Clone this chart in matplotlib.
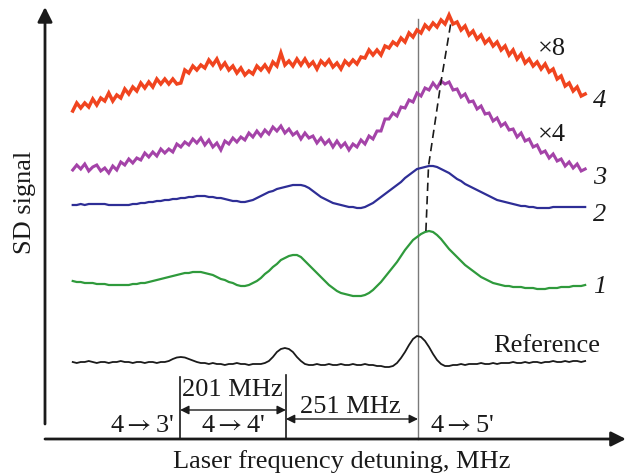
import numpy as np
import matplotlib
matplotlib.use("Agg")
import matplotlib.pyplot as plt

plt.rcParams['font.family'] = ['Liberation Serif', 'DejaVu Serif']
plt.rcParams['mathtext.fontset'] = 'stix'

# Laser frequency detuning (MHz) relative to 4->5' transition, sample grid
detuning = np.linspace(-656, 317.6, 129)

# Hyperfine transitions (MHz)
transitions = {"4→3'": -452, "4→4'": -251, "4→5'": 0}

reference = [77,76,77,77,78,77,76,77,77,76,77,77,78,77,77,76,77,77,76,77,77,76,77,
             77,78,80,81.5,82,81.5,80,78.5,77,76,76,
             75,76,75,75,74,75,75,76,75,75,74,75,75,
             75,76,78,82,87,90,91,90,87,82,78,75,74,
             74,75,74,74,75,74,74,75,74,74,75,74,74,75,
             74,74,73,73,72,72,73,76,81,87,94,100,103,102,98,92,85,79,75,73,73,
             74,74,75,74,75,75,75,76,75,75,76,75,76,76,76,77,76,76,77,76,77,77,76,77,77,78,77,77,78,77,78,78,77,78]

curve1 = [158,157,157,156,156,156,155,155,155,154,154,154,154,154,154,155,155,156,156,157,
          158,159,160,161,162,163,164,165,166,166,167,167,167,166,165,164,162,160,159,157,
          156,154,153,153,154,156,158,161,165,168,172,175,179,181,183,184,184,182,178,174,
          170,166,162,158,154,151,148,146,145,144,143,143,143,144,146,149,153,157,162,167,
          172,177,183,189,194,199,202,205,207,208,207,204,200,195,190,186,182,178,174,171,
          168,165,162,160,158,156,155,154,153,153,152,152,152,151,151,151,150,150,150,151,
          151,151,152,152,152,153,153,153,154]

curve2 = [234,234,235,234,235,235,235,235,235,234,234,234,234,234,234,235,235,236,236,237,
          237,238,238,239,239,240,240,241,241,242,242,243,243,243,242,242,241,241,240,239,
          238,238,237,237,238,239,241,243,245,247,248,250,251,252,253,254,254,254,253,251,
          248,245,242,240,238,236,235,234,233,232,232,231,231,232,234,236,239,242,245,248,
          251,254,257,261,264,267,270,271,272,273,273,272,270,268,266,263,260,258,255,253,
          251,249,247,245,243,241,239,238,237,236,235,234,233,233,232,232,231,231,231,231,
          232,232,232,232,232,232,232,232,232]

curve3 = [269,274,270,275,268,272,274,268,271,266,273,269,277,274,280,276,281,279,286,282,
          287,283,290,286,290,287,295,292,297,294,300,296,301,294,299,292,296,289,298,295,
          301,297,302,299,306,302,308,303,309,305,312,308,313,306,310,304,307,300,306,301,
          303,296,301,295,299,292,298,292,296,289,295,292,299,295,303,300,308,308,320,320,
          326,323,332,331,339,337,346,343,351,349,356,351,358,355,357,349,350,342,345,337,
          338,330,333,325,326,318,321,313,316,309,310,302,306,298,300,292,294,286,288,281,
          285,278,280,273,277,271,275,268,270]

curve4 = [328,336,331,336,332,340,334,341,338,346,338,344,341,350,345,352,348,356,351,357,
          352,360,355,360,355,360,355,356,369,366,373,369,374,371,379,374,380,371,376,369,
          373,366,371,364,368,365,373,369,374,368,377,373,386,374,378,373,380,374,380,373,
          377,370,378,374,379,372,376,370,378,374,379,375,382,381,389,384,389,384,393,391,
          397,394,401,397,406,402,409,406,414,410,416,412,419,415,424,415,417,409,413,404,
          408,400,404,396,400,393,397,389,393,384,389,380,385,376,380,373,377,370,375,367,
          370,360,363,353,356,348,352,343,345]

curves = [
    (reference, '#1a1a1a', 1.3),
    (curve1, '#2f9a3c', 1.6),
    (curve2, '#2e2e96', 1.6),
    (curve3, '#a443a8', 2.2),
    (curve4, '#f0441f', 2.5),
]

fig = plt.figure(figsize=(6.32, 4.77), dpi=100)
ax = fig.add_axes([0, 0, 1, 1])
ax.set_xlim(-794.2, 406.6)
ax.set_ylim(-37, 440)
ax.axis('off')

for vals, col, lw in curves:
    ax.plot(detuning, vals, color=col, lw=lw, solid_joinstyle='miter')

# transition markers
ax.plot([0, 0], [0, 420], color='#7a7a7a', lw=1.0, zorder=0)
ax.plot([transitions["4→3'"]] * 2, [0, 62], color='#1a1a1a', lw=1.2)
ax.plot([transitions["4→4'"]] * 2, [0, 64], color='#1a1a1a', lw=1.2)

# dashed line through peak positions
ax.plot([15, 20, 44, 63], [208, 273, 358, 418], color='#1a1a1a', lw=1.2,
        dashes=(5, 3))

# interval arrows
ax.annotate('', xy=(transitions["4→3'"], 29), xytext=(transitions["4→4'"], 29),
            arrowprops=dict(arrowstyle='<|-|>', color='#1a1a1a', lw=1.0,
                            mutation_scale=13, shrinkA=0, shrinkB=0))
ax.annotate('', xy=(transitions["4→4'"], 20), xytext=(transitions["4→5'"], 20),
            arrowprops=dict(arrowstyle='<|-|>', color='#1a1a1a', lw=1.0,
                            mutation_scale=13, shrinkA=0, shrinkB=0))

# main axes arrows
ax.annotate('', xy=(-708.7, 432), xytext=(-708.7, 15),
            arrowprops=dict(arrowstyle='-|>', color='#1a1a1a', lw=2.0,
                            mutation_scale=22, shrinkA=0, shrinkB=0))
ax.annotate('', xy=(395, 0), xytext=(-708.7, 0),
            arrowprops=dict(arrowstyle='-|>', color='#1a1a1a', lw=2.0,
                            mutation_scale=22, shrinkA=0, shrinkB=0))

fs = 19
tc = '#1a1a1a'
arrow = r'$\rightarrow$'
ax.text(-353, 50, '201 MHz', fontsize=fs, ha='center', va='center', color=tc)
ax.text(-129, 33, '251 MHz', fontsize=fs, ha='center', va='center', color=tc)
ax.text(-524, 14, "4" + arrow + "3'", fontsize=fs, ha='center', va='center', color=tc)
ax.text(-351, 14, "4" + arrow + "4'", fontsize=fs, ha='center', va='center', color=tc)
ax.text(84, 14, "4" + arrow + "5'", fontsize=fs, ha='center', va='center', color=tc)
ax.text(-144, -22, 'Laser frequency detuning, MHz', fontsize=fs, ha='center',
        va='center', color=tc)
ax.text(-747, 238, 'SD signal', fontsize=fs, ha='center', va='center',
        rotation=90, color=tc)

ax.text(254, 391, '×8', fontsize=fs, ha='center', va='center', color=tc)
ax.text(254, 305, '×4', fontsize=fs, ha='center', va='center', color=tc)
ax.text(245, 94, 'Reference', fontsize=fs, ha='center', va='center', color=tc)
for lab, yy in [('4', 339), ('3', 262), ('2', 225), ('1', 153)]:
    ax.text(345, yy, lab, fontsize=fs, ha='center', va='center',
            style='italic', color=tc)

fig.savefig('out.png', dpi=100)
